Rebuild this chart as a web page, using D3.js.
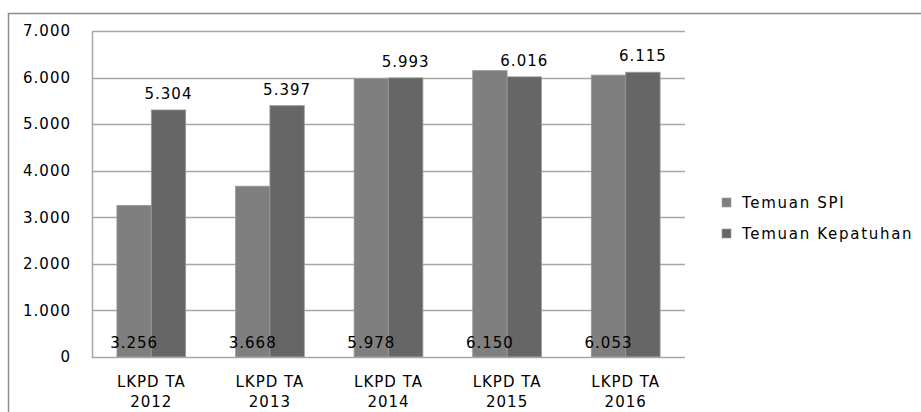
<!DOCTYPE html>
<html>
<head>
<meta charset="utf-8">
<script src="https://cdn.jsdelivr.net/npm/d3@7/dist/d3.min.js"></script>
<style>
  html, body { margin: 0; padding: 0; background: #fff; }
  svg { display: block; }
  text { font-family: "DejaVu Sans", Verdana, sans-serif; fill: #000; }
</style>
</head>
<body>
<svg id="chart" width="921" height="412"></svg>
<script>
// Findings per LKPD fiscal year
const categories = ["LKPD TA 2012", "LKPD TA 2013", "LKPD TA 2014", "LKPD TA 2015", "LKPD TA 2016"];
const seriesNames = ["Temuan SPI", "Temuan Kepatuhan"];
const temuanSPI = [3256, 3668, 5978, 6150, 6053];
const temuanKepatuhan = [5304, 5397, 5993, 6016, 6115];
const yTicks = [0, 1000, 2000, 3000, 4000, 5000, 6000, 7000];

const colors = ["#7f7f7f", "#666666"];
const fmt = v => d3.format(",")(v).replace(/,/g, ".");

const svg = d3.select("#chart");
const W = 921, H = 412;
const plot = { left: 92, right: 685, top: 31, bottom: 357 };

// Outer chart frame (top and left edges visible)
svg.append("path")
  .attr("d", `M8.5,${H} L8.5,13.5 L${W},13.5`)
  .attr("fill", "none").attr("stroke", "#8c8c8c").attr("stroke-width", 1.5);

const x0 = d3.scaleBand().domain(categories)
  .range([plot.left, plot.right]).paddingInner(0.42).paddingOuter(0.21);
const x1 = d3.scaleBand().domain(seriesNames).range([0, x0.bandwidth()]);
const y = d3.scaleLinear().domain([0, 7000]).range([plot.bottom, plot.top]);

// Horizontal gridlines
svg.append("g").selectAll("line").data(yTicks.filter(d => d > 0)).join("line")
  .attr("x1", plot.left).attr("x2", plot.right)
  .attr("y1", d => Math.round(y(d)) + 0.5).attr("y2", d => Math.round(y(d)) + 0.5)
  .attr("stroke", "#a6a6a6").attr("stroke-width", 1.5);

// Y axis labels
const yAxis = d3.axisLeft(y).tickValues(yTicks).tickFormat(fmt).tickSize(0).tickPadding(0);
const gy = svg.append("g").attr("transform", `translate(71,0)`).call(yAxis);
gy.select(".domain").remove();
gy.selectAll("text")
  .attr("font-family", "DejaVu Sans").attr("font-size", 15)
  .attr("letter-spacing", 1).attr("fill", "#000").attr("dy", "0.32em");

// Bars
const rows = categories.map((c, i) => ({ cat: c, vals: [temuanSPI[i], temuanKepatuhan[i]] }));
const groups = svg.append("g").selectAll("g").data(rows).join("g")
  .attr("transform", d => `translate(${x0(d.cat)},0)`);
groups.selectAll("rect").data(d => d.vals.map((v, k) => ({ v, k, name: seriesNames[k] }))).join("rect")
  .attr("x", d => x1(d.name)).attr("width", x1.bandwidth())
  .attr("y", d => y(d.v)).attr("height", d => y(0) - y(d.v))
  .attr("fill", d => colors[d.k])
  .attr("stroke", "#9a9a9a").attr("stroke-width", 0.8);

// Value labels: SPI at the bar base, Kepatuhan above the bar
groups.append("text")
  .attr("x", d => x1(seriesNames[0]) + x1.bandwidth() / 2)
  .attr("y", y(0) - 9)
  .attr("text-anchor", "middle").attr("font-size", 15).attr("letter-spacing", 1)
  .text(d => fmt(d.vals[0]));
groups.append("text")
  .attr("x", d => x1(seriesNames[1]) + x1.bandwidth() / 2)
  .attr("y", d => y(d.vals[1]) - 11)
  .attr("text-anchor", "middle").attr("font-size", 15).attr("letter-spacing", 1)
  .text(d => fmt(d.vals[1]));

// Axes lines
svg.append("line").attr("x1", plot.left).attr("x2", plot.right)
  .attr("y1", plot.bottom + 0.5).attr("y2", plot.bottom + 0.5)
  .attr("stroke", "#a6a6a6").attr("stroke-width", 1.5);
svg.append("line").attr("x1", plot.left + 0.5).attr("x2", plot.left + 0.5)
  .attr("y1", plot.top).attr("y2", plot.bottom + 1)
  .attr("stroke", "#a6a6a6").attr("stroke-width", 1.5);

// Category labels on two lines
const xl = svg.append("g").selectAll("text").data(categories).join("text")
  .attr("x", d => x0(d) + x0.bandwidth() / 2)
  .attr("text-anchor", "middle").attr("font-size", 15).attr("letter-spacing", 1);
xl.append("tspan").attr("x", d => x0(d) + x0.bandwidth() / 2).attr("y", 387)
  .text(d => d.split(" ").slice(0, 2).join(" "));
xl.append("tspan").attr("x", d => x0(d) + x0.bandwidth() / 2).attr("y", 406.5)
  .text(d => d.split(" ")[2]);

// Legend
const legend = svg.append("g").selectAll("g").data(seriesNames).join("g")
  .attr("transform", (d, i) => `translate(722,${198 + i * 31})`);
legend.append("rect").attr("width", 9).attr("height", 9)
  .attr("fill", (d, i) => colors[i]).attr("stroke", "#9a9a9a").attr("stroke-width", 0.6);
legend.append("text").attr("x", 20).attr("y", 9.5)
  .attr("font-size", 15).attr("letter-spacing", 1.7).text(d => d);
</script>
</body>
</html>
